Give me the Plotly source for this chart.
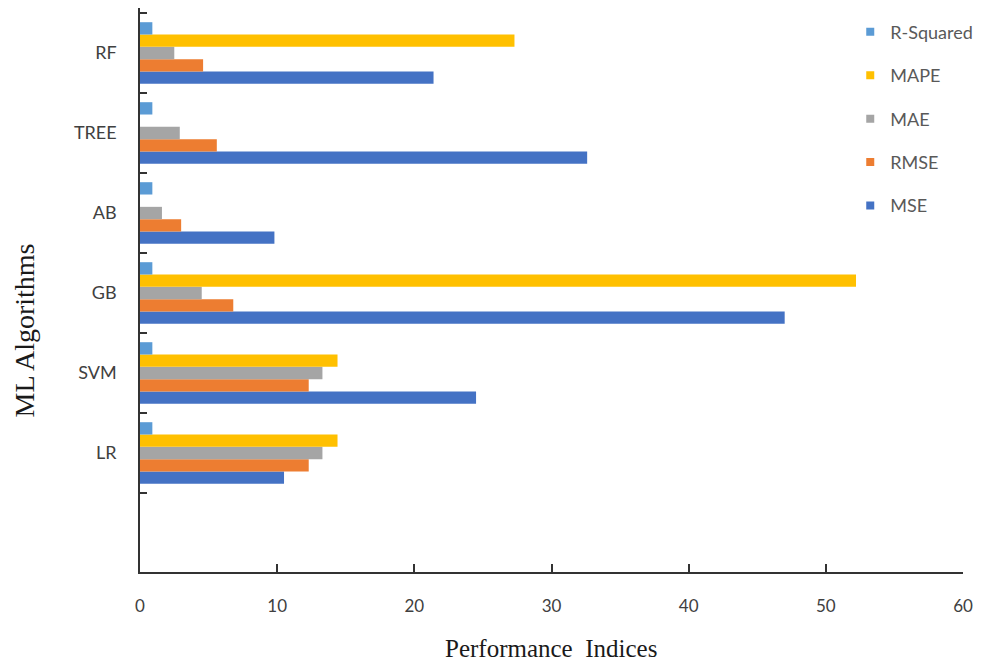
import plotly.graph_objects as go

# Algorithms, bottom to top
algorithms = ["LR", "SVM", "GB", "AB", "TREE", "RF"]

# Performance indices per algorithm
mse = [10.5, 24.5, 47.0, 9.8, 32.6, 21.4]
rmse = [12.3, 12.3, 6.8, 3.0, 5.6, 4.6]
mae = [13.3, 13.3, 4.5, 1.6, 2.9, 2.5]
mape = [14.4, 14.4, 52.2, 0.0, 0.0, 27.3]
r_squared = [0.9, 0.9, 0.9, 0.9, 0.9, 0.9]

x_ticks = [0, 10, 20, 30, 40, 50, 60]

# (name, values, colour, legend rank)
series = [
    ("MSE", mse, "#4472C4", 5),
    ("RMSE", rmse, "#ED7D31", 4),
    ("MAE", mae, "#A5A5A5", 3),
    ("MAPE", mape, "#FFC000", 2),
    ("R-Squared", r_squared, "#5B9BD5", 1),
]

positions = list(range(len(algorithms)))

fig = go.Figure()
for name, vals, color, rank in series:
    fig.add_trace(go.Bar(
        x=vals, y=positions, orientation="h", name=name,
        marker=dict(color=color, line=dict(width=0)),
        showlegend=False,
    ))
    # small square legend key
    fig.add_trace(go.Scatter(
        x=[None], y=[None], mode="markers", name=name,
        marker=dict(symbol="square", size=8, color=color),
        legendgroup=name, legendrank=rank,
    ))

axis_color = "#333333"
label_color = "#404040"

fig.update_layout(
    width=981, height=662,
    margin=dict(l=140, r=18, t=8, b=90, autoexpand=False),
    paper_bgcolor="white", plot_bgcolor="white",
    barmode="group", bargap=0.23, bargroupgap=0,
    showlegend=True,
    legend=dict(
        x=0.863, y=0.99, xanchor="left", yanchor="top",
        traceorder="grouped", tracegroupgap=17,
        font=dict(family="Lato", size=18, color="#595959"),
        bgcolor="rgba(0,0,0,0)", itemwidth=30,
    ),
    xaxis=dict(
        range=[0, 60], tickvals=x_ticks, ticktext=[str(v) for v in x_ticks],
        ticks="inside", ticklen=8, tickwidth=1.5, tickcolor=axis_color,
        showline=True, linecolor=axis_color, linewidth=1.5,
        showgrid=False, zeroline=False,
        tickfont=dict(family="Lato", size=17, color=label_color),
        ticklabelstandoff=18,
    ),
    yaxis=dict(
        range=[-1.4875, 5.5625],
        tickvals=positions, ticktext=algorithms, ticks="",
        showline=True, linecolor=axis_color, linewidth=1.5,
        showgrid=False, zeroline=False,
        tickfont=dict(family="Lato", size=18, color=label_color),
        ticklabelstandoff=18,
        minor=dict(tick0=-0.5, dtick=1, ticks="inside", ticklen=7,
                   tickwidth=1.5, tickcolor=axis_color, showgrid=False),
    ),
    annotations=[
        dict(text="Performance  Indices", x=0.499, y=-0.135, xref="paper", yref="paper",
             showarrow=False, xanchor="center", yanchor="middle",
             font=dict(family="Liberation Serif", size=25, color="#1a1a1a")),
        dict(text="ML Algorithms", x=-0.1404, y=0.429, xref="paper", yref="paper",
             showarrow=False, textangle=-90, xanchor="center", yanchor="middle",
             font=dict(family="Liberation Serif", size=28, color="#1a1a1a")),
    ],
)

fig.write_html("out.html")
